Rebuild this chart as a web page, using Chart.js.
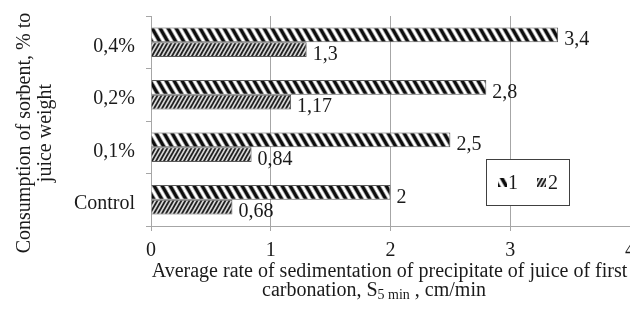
<!DOCTYPE html>
<html>
<head>
<meta charset="utf-8">
<script src="https://cdn.jsdelivr.net/npm/chart.js@4.4.1/dist/chart.umd.min.js"></script>
<style>
  html, body { margin: 0; padding: 0; background: #fff; overflow: hidden; }
  #wrap { width: 640px; height: 313px; }
</style>
</head>
<body>
<div id="wrap"><canvas id="c" width="640" height="313"></canvas></div>
<script>
const categories = ['0,4%', '0,2%', '0,1%', 'Control'];
const series1 = [3.4, 2.8, 2.5, 2];
const series2 = [1.3, 1.17, 0.84, 0.68];
const seriesNames = ['1', '2'];
const xTicks = [0, 1, 2, 3, 4];
const yTitleLines = ['Consumption of sorbent, % to', 'juice weight'];
const xTitleLine1 = 'Average rate of sedimentation of precipitate of juice of first';
const xTitleLine2 = ['carbonation, S', '5 min', ' , cm/min'];

const FONT = '"Liberation Serif", "Times New Roman", serif';
const FS = 20;
const TEXT = '#1a1a1a';
const GRID = '#a6a6a6';

function makePattern1() {
  const w = 8, h = 14;
  const c = document.createElement('canvas'); c.width = w; c.height = h;
  const g = c.getContext('2d');
  g.fillStyle = '#ffffff'; g.fillRect(0, 0, w, h);
  for (const dx of [-w, 0, w]) {
    g.strokeStyle = '#a0a0a0'; g.lineWidth = 4.6;
    g.beginPath(); g.moveTo(dx - w, -h); g.lineTo(dx + 2 * w, 2 * h); g.stroke();
    g.strokeStyle = '#0d0d0d'; g.lineWidth = 3.0;
    g.beginPath(); g.moveTo(dx - w, -h); g.lineTo(dx + 2 * w, 2 * h); g.stroke();
  }
  return g.createPattern(c, 'repeat');
}
function makePattern2() {
  const w = 4, h = 7;
  const c = document.createElement('canvas'); c.width = w; c.height = h;
  const g = c.getContext('2d');
  g.fillStyle = '#d9d9d9'; g.fillRect(0, 0, w, h);
  for (const dx of [-w, 0, w]) {
    g.strokeStyle = '#1f1f1f'; g.lineWidth = 1.8;
    g.beginPath(); g.moveTo(dx - w, 2 * h); g.lineTo(dx + 2 * w, -h); g.stroke();
  }
  return g.createPattern(c, 'repeat');
}
const pat1 = makePattern1();
const pat2 = makePattern2();

const fmt = v => String(v).replace('.', ',');

const dataLabels = {
  id: 'dataLabels',
  afterDatasetsDraw(chart) {
    const ctx = chart.ctx;
    ctx.save();
    ctx.font = FS + 'px ' + FONT;
    ctx.fillStyle = TEXT;
    ctx.textAlign = 'left';
    ctx.textBaseline = 'middle';
    chart.data.datasets.forEach((ds, di) => {
      const meta = chart.getDatasetMeta(di);
      meta.data.forEach((el, i) => {
        ctx.fillText(fmt(ds.data[i]), el.x + 6, el.y + 5);
      });
    });
    ctx.restore();
  }
};

const customLegendAndTitles = {
  id: 'customLegendAndTitles',
  afterDraw(chart) {
    const ctx = chart.ctx;
    const ca = chart.chartArea;
    ctx.save();
    // legend box
    const bx = 486.5, by = 159.5, bw = 83, bh = 46;
    ctx.fillStyle = '#fff';
    ctx.fillRect(bx, by, bw, bh);
    ctx.strokeStyle = '#404040';
    ctx.lineWidth = 1;
    ctx.strokeRect(bx, by, bw, bh);
    const items = [
      { sx: 498, tx: 508, pat: pat1, name: seriesNames[0] },
      { sx: 537, tx: 548, pat: pat2, name: seriesNames[1] }
    ];
    ctx.font = FS + 'px ' + FONT;
    ctx.textBaseline = 'middle';
    ctx.textAlign = 'left';
    items.forEach(it => {
      ctx.fillStyle = it.pat;
      ctx.fillRect(it.sx, 178, 9, 9);
      ctx.fillStyle = TEXT;
      ctx.fillText(it.name, it.tx, 184);
    });

    // x title
    const cx = (ca.left + ca.right) / 2;
    ctx.textAlign = 'center';
    ctx.fillText(xTitleLine1, cx - 1, 272);
    ctx.font = FS + 'px ' + FONT;
    const w1 = ctx.measureText(xTitleLine2[0]).width;
    const w3 = ctx.measureText(xTitleLine2[2]).width;
    ctx.font = '14px ' + FONT;
    const w2 = ctx.measureText(xTitleLine2[1]).width;
    let x0 = 374 - (w1 + w2 + w3) / 2;
    ctx.textAlign = 'left';
    ctx.font = FS + 'px ' + FONT;
    ctx.fillText(xTitleLine2[0], x0, 291);
    ctx.font = '14px ' + FONT;
    ctx.fillText(xTitleLine2[1], x0 + w1, 295);
    ctx.font = FS + 'px ' + FONT;
    ctx.fillText(xTitleLine2[2], x0 + w1 + w2, 291);

    // y title
    ctx.translate(0, 133);
    ctx.rotate(-Math.PI / 2);
    ctx.textAlign = 'center';
    ctx.fillText(yTitleLines[0], 0, 25);
    ctx.fillText(yTitleLines[1], 0, 46);
    ctx.restore();
  }
};

new Chart(document.getElementById('c'), {
  type: 'bar',
  data: {
    labels: categories,
    datasets: [
      { label: seriesNames[0], data: series1, backgroundColor: pat1, borderColor: '#595959', borderWidth: 1,
        categoryPercentage: 0.56, barPercentage: 1.0 },
      { label: seriesNames[1], data: series2, backgroundColor: pat2, borderColor: '#595959', borderWidth: 1,
        categoryPercentage: 0.56, barPercentage: 1.0 }
    ]
  },
  options: {
    indexAxis: 'y',
    responsive: false,
    animation: false,
    devicePixelRatio: 1,
    layout: { padding: { left: 0, top: 16, right: 10, bottom: 0 } },
    plugins: { legend: { display: false }, tooltip: { enabled: false } },
    scales: {
      x: {
        min: 0, max: 4,
        afterBuildTicks(scale) { scale.ticks = xTicks.map(v => ({ value: v })); },
        afterFit(scale) { scale.height = 87; scale.paddingLeft = 0; scale.paddingRight = 0; },
        ticks: { font: { family: FONT, size: FS }, color: TEXT, padding: 8 },
        grid: { color: GRID, lineWidth: 1, tickLength: 5, drawTicks: true },
        border: { color: GRID, width: 1 }
      },
      y: {
        afterFit(scale) { scale.width = 151; scale.paddingTop = 0; scale.paddingBottom = 0; },
        ticks: { font: { family: FONT, size: FS }, color: TEXT, padding: 11, labelOffset: 4 },
        grid: { drawOnChartArea: false, drawTicks: true, tickLength: 5, color: GRID, offset: true },
        border: { color: GRID, width: 1 }
      }
    }
  },
  plugins: [dataLabels, customLegendAndTitles]
});
</script>
</body>
</html>
